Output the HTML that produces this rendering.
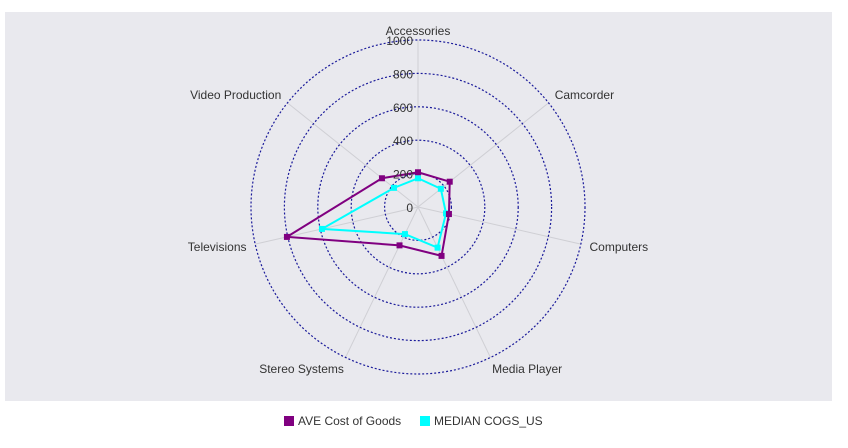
<!DOCTYPE html>
<html><head><meta charset="utf-8"><style>
body{margin:0;background:#fff;font-family:"Liberation Sans",sans-serif;}
svg text{font-family:"Liberation Sans",sans-serif;font-size:12px;fill:#333;}
</style></head><body>
<svg width="848" height="443">
<rect x="5" y="12" width="827" height="389" fill="#e9e9ee"/>
<g id="grid"></g><g id="series"></g><g id="labels"></g>
<g>
<rect x="284" y="416" width="10" height="10" fill="#800080"/>
<text x="298" y="425">AVE Cost of Goods</text>
<rect x="420" y="416" width="10" height="10" fill="#00ffff"/>
<text x="434" y="425">MEDIAN COGS_US</text>
</g>
</svg>
<script>
const categories=["Accessories","Camcorder","Computers","Media Player","Stereo Systems","Televisions","Video Production"];
const aveValues=[208,243,190,325,255,805,276];
const medianValues=[172,175,172,270,180,590,184];
const ticks=[0,200,400,600,800,1000];
const cx=418,cy=207,R=167,maxV=1000;
const NS="http://www.w3.org/2000/svg";
function mk(t,a,p){const e=document.createElementNS(NS,t);for(const k in a)e.setAttribute(k,a[k]);p.appendChild(e);return e;}
function ang(i){return -Math.PI/2+i*2*Math.PI/categories.length;}
function pt(i,v){const r=v/maxV*R;return [cx+r*Math.cos(ang(i)),cy+r*Math.sin(ang(i))];}
const g=document.getElementById('grid'),s=document.getElementById('series'),L=document.getElementById('labels');
categories.forEach((c,i)=>{const p=pt(i,maxV);
 const l=mk('line',{x1:cx,y1:cy,x2:p[0],y2:p[1],stroke:'#cfcfd4','stroke-width':1},g);
 
 
 const a=ang(i),lx=cx+180*Math.cos(a),ly=cy+180*Math.sin(a)+4;
 const cs=Math.cos(a);const anchor=Math.abs(cs)<0.1?'middle':(cs>0?'start':'end');
 const t=mk('text',{x:lx+(anchor==='middle'?0:(cs>0?-4:4)),y:i===0?ly+4:ly,'text-anchor':anchor},L);t.textContent=c;
 
 
});
ticks.forEach(v=>{if(v>0){const c=mk('circle',{cx:cx,cy:cy,r:v/maxV*R,fill:'none',stroke:'#1a1a9a','stroke-width':1.2,'stroke-dasharray':'2,2'},g);
 
 }
 const t=mk('text',{x:cx-5,y:cy-v/maxV*R+5,'text-anchor':'end'},L);t.textContent=v;
 
 
});
function series(vals,col,name){
 const pts=vals.map((v,i)=>pt(i,v));
 const pg=mk('polygon',{points:pts.map(p=>p.join(',')).join(' '),fill:'none',stroke:col,'stroke-width':2},s);
 
 
 pts.forEach((p,i)=>{const r=mk('rect',{x:p[0]-3,y:p[1]-3,width:6,height:6,fill:col},s);
 
 });
}
series(medianValues,'#00ffff','median-cogs');
series(aveValues,'#800080','ave-cost');
</script>
</body></html>
